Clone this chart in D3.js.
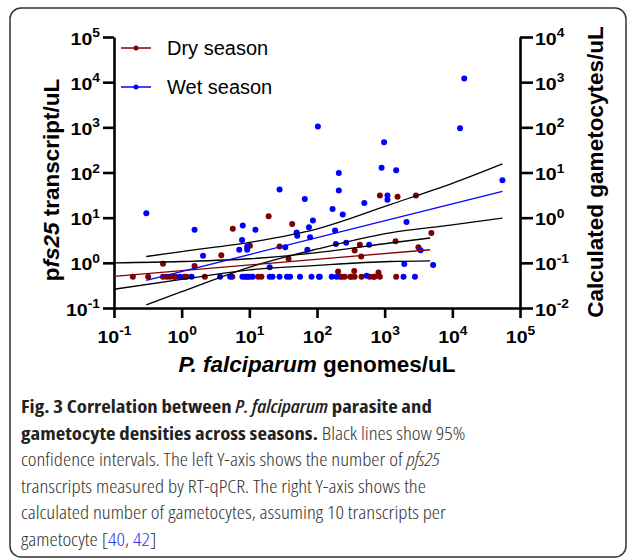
<!DOCTYPE html>
<html>
<head>
<meta charset="utf-8">
<script src="https://cdn.jsdelivr.net/npm/d3@7"></script>
<style>
	body { margin:0; background:#fff; }
	svg { display:block; }
	.ax text { font-family:"Liberation Sans", Arial, sans-serif; font-weight:bold; font-size:17px; fill:#000; }
	.ttl { font-family:"Liberation Sans", Arial, sans-serif; font-weight:bold; font-size:22.5px; }
	.leg { font-family:"Liberation Sans", Arial, sans-serif; font-size:20px; }
	.cap { font-family:"Open Sans", sans-serif; font-size:18.5px; font-stretch:87.5%; }
</style>
</head>
<body>
<div id="fig"></div>
<script>
// values: [genomes/uL, pfs25 transcripts/uL]
var dryPoints = [
	[5.7,5.7],[10.2,2.4],[3.85,1.48],[0.53,0.95],[1.55,0.85],[19.3,10.7],[43,7.2],
	[28,2.3],[38,1.23],[430,2.5],[360,1.88],[450,1.38],[850,31],[1550,29],[2900,31],
	[4900,4.6],[1450,3.0],[3150,2.2],[205,0.64],[355,0.66],[810,0.61],
	[0.19,0.49],[0.32,0.49],[0.53,0.49],[0.6,0.49],[0.67,0.49],[0.76,0.49],[0.81,0.49],
	[1.1,0.49],[1.18,0.49],[2.2,0.49],[5.6,0.49],[9.6,0.49],[10.2,0.49],[13.5,0.49],
	[15.1,0.49],[220,0.49],[235,0.49],[257,0.49],[310,0.49],[325,0.49],[360,0.49],
	[455,0.49],[600,0.49],[680,0.49],[710,0.49],[850,0.49],[1480,0.49]
]
var wetPoints = [
	[15000,12000],[13000,960],[103,1050],[980,470],[900,127],[1480,112],[210,98],
	[210,40],[55000,67],[28,42],[66,26],[1100,31],[1100,25],[0.3,12.6],[1.55,5.4],
	[8.0,6.7],[7.8,3.2],[7.1,1.95],[9.3,2.3],[9.3,1.95],[12.3,5.4],[2.07,1.43],
	[87,8.7],[76,6.1],[50,4.7],[51,4.0],[79,3.7],[170,15.6],[240,11.7],[500,21],
	[185,5.2],[34,2.2],[72,1.95],[20,0.8],[190,2.6],[270,2.8],[590,2.5],[2100,8],
	[3400,1.9],[1950,0.94],[5200,0.89],[540,0.52],
	[0.94,0.49],[1.4,0.49],[3.7,0.49],[5.2,0.49],[7.9,0.49],[8.6,0.49],[9.1,0.49],
	[11.2,0.49],[20,0.49],[22,0.49],[28,0.49],[36,0.49],[40,0.49],[56,0.49],[83,0.49],
	[107,0.49],[110,0.49],[165,0.49],[195,0.49],[1900,0.49],[2800,0.49]
]

// regression lines and 95% bands
var dryFit = [[0.1,0.5],[4700,1.95]]
var dryUpper = [[0.1,1.0],[1,1.07],[10.2,1.23],[100,1.68],[1200,2.75],[4700,3.55]]
var dryLower = [[0.1,0.26],[1,0.43],[10.2,0.70],[100,0.88],[1200,1.07],[4700,1.11]]
var wetFit = [[0.3,0.41],[55000,38]]
var wetUpper = [[0.3,1.38],[1,1.78],[11.7,2.95],[98,5.6],[1200,19.5],[10000,57.5],[55000,155]]
var wetLower = [[0.3,0.117],[1,0.23],[11.7,0.86],[98,2.0],[1200,4.6],[10000,6.9],[55000,9.8]]

var xTicks = [0.1,1,10,100,1000,10000,100000]
var leftTicks = [0.1,1,10,100,1000,10000,100000]
var rightTicks = [0.01,0.1,1,10,100,1000,10000]

var seasons = ["Dry season","Wet season"]
var seasonColors = ["#800000","#0000ff"]

var captionLines = [
	[["b","Fig. 3 Correlation between "],["bi","P. falciparum"],["b"," parasite and"]],
	[["b","gametocyte densities across seasons."],["r"," Black lines show 95%"]],
	[["r","confidence intervals. The left Y-axis shows the number of "],["ri","pfs25"]],
	[["r","transcripts measured by RT-qPCR. The right Y-axis shows the"]],
	[["r","calculated number of gametocytes, assuming 10 transcripts per"]],
	[["r","gametocyte ["],["l","40"],["r",", "],["l","42"],["r","]"]]
]

var W = 627, H = 559
var svg = d3.select("#fig").append("svg")
	.attr("width",W)
	.attr("height",H)

svg.append("rect")
	.attr("x",10).attr("y",8)
	.attr("width",616).attr("height",549)
	.attr("rx",11)
	.attr("fill","#fff")
	.attr("stroke","#333")
	.attr("stroke-width",1.5)

var x = d3.scaleLog().domain([0.1,1e5]).range([114,520])
var y = d3.scaleLog().domain([0.1,1e5]).range([308,37])
var y2 = d3.scaleLog().domain([0.01,1e4]).range([308,37])

// tick labels in the source are a bit wider than Liberation, so stretch them
var kx = 1.15
function power(sel, x0, y0) {
	sel.each(function(d){
		var e = Math.round(Math.log10(d))
		var t = d3.select(this).text(null)
			.attr("x",x0/kx)
			.attr("y",y0)
			.attr("dy",0)
			.attr("transform","scale("+kx+",1)")
		t.append("tspan").text("10")
		t.append("tspan").attr("dy",-7.5).attr("font-size",12).text(e)
	})
}

function styleAxis(g) {
	g.attr("font-size",null).attr("font-family",null)
	g.select(".domain").attr("stroke-width",2.6).attr("stroke","#000")
	g.selectAll(".tick line").attr("stroke-width",2.6).attr("stroke","#000")
}

var gx = svg.append("g").attr("class","ax")
	.attr("transform","translate(0,308)")
	.call(d3.axisBottom(x).tickValues(xTicks).tickSize(10).tickSizeOuter(0))
	.call(styleAxis)
gx.selectAll(".tick text").call(power,0,35)

var gl = svg.append("g").attr("class","ax")
	.attr("transform","translate(114,0)")
	.call(d3.axisLeft(y).tickValues(leftTicks).tickSize(11).tickPadding(3).tickSizeOuter(0))
	.call(styleAxis)
gl.selectAll(".tick text").call(power,-14,7)

var gr = svg.append("g").attr("class","ax")
	.attr("transform","translate(520,0)")
	.call(d3.axisRight(y2).tickValues(rightTicks).tickSize(13).tickPadding(2).tickSizeOuter(0))
	.call(styleAxis)
gr.selectAll(".tick text").call(power,15,7)

// axis titles
var lt = svg.append("text").attr("class","ttl")
	.attr("transform","translate(59,180) rotate(-90)")
	.attr("text-anchor","middle")
lt.append("tspan").text("p")
lt.append("tspan").attr("font-style","italic").text("fs25")
lt.append("tspan").text(" transcript/uL")

svg.append("text").attr("class","ttl")
	.attr("transform","translate(603,172) rotate(-90)")
	.attr("text-anchor","middle")
	.text("Calculated gametocytes/uL")

var bt = svg.append("text").attr("class","ttl")
	.attr("x",317).attr("y",372)
	.attr("text-anchor","middle")
bt.append("tspan").attr("font-style","italic").text("P. falciparum")
bt.append("tspan").text(" genomes/uL")

// points
var groups = [dryPoints, wetPoints]
groups.forEach(function(pts,k){
	svg.append("g")
		.selectAll("circle")
		.data(pts)
		.enter()
		.append("circle")
		.attr("cx",function(d){ return x(d[0]) })
		.attr("cy",function(d){ return y(d[1]) })
		.attr("r",3)
		.attr("fill",seasonColors[k])
})

// fit lines + bands
var line = d3.line()
	.x(function(d){ return x(d[0]) })
	.y(function(d){ return y(d[1]) })
	.curve(d3.curveMonotoneX)

var lines = [
	[dryUpper,"#000"],[dryLower,"#000"],[wetUpper,"#000"],[wetLower,"#000"],
	[dryFit,seasonColors[0]],[wetFit,seasonColors[1]]
]
svg.append("g")
	.selectAll("path")
	.data(lines)
	.enter()
	.append("path")
	.attr("d",function(d){ return line(d[0]) })
	.attr("fill","none")
	.attr("stroke",function(d){ return d[1] })
	.attr("stroke-width",1.3)

// legend
var leg = svg.append("g")
	.selectAll("g")
	.data(seasons)
	.enter()
	.append("g")
	.attr("transform",function(d,i){ return "translate(121,"+(48+i*39)+")" })
leg.append("line")
	.attr("x1",0).attr("x2",30)
	.attr("stroke",function(d,i){ return seasonColors[i] })
	.attr("stroke-width",1.5)
leg.append("circle")
	.attr("cx",15).attr("r",2.5)
	.attr("fill",function(d,i){ return seasonColors[i] })
leg.append("text").attr("class","leg")
	.attr("x",46).attr("y",7)
	.text(function(d){ return d })

// caption
var styles = {
	b: {w:700, s:"normal", c:"#222"},
	bi: {w:600, s:"italic", c:"#222"},
	r: {w:300, s:"normal", c:"#333"},
	ri: {w:300, s:"italic", c:"#333"},
	l: {w:300, s:"normal", c:"#3333dd"}
}
var capG = svg.append("g")
var cap = capG
	.selectAll("text")
	.data(captionLines)
	.enter()
	.append("text")
	.attr("class","cap")
	.attr("x",0)
	.attr("y",function(d,i){ return 413 + i*26.6 })
cap.selectAll("tspan")
	.data(function(d){ return d })
	.enter()
	.append("tspan")
	.attr("font-weight",function(d){ return styles[d[0]].w })
	.attr("font-style",function(d){ return styles[d[0]].s })
	.attr("fill",function(d){ return styles[d[0]].c })
	.text(function(d){ return d[1] })

// squeeze to the width of the printed caption (first line is ~411px wide)
var w0 = cap.node().getComputedTextLength()
capG.attr("transform","translate(21,0) scale("+(411/w0)+",1)")
</script>
</body>
</html>
